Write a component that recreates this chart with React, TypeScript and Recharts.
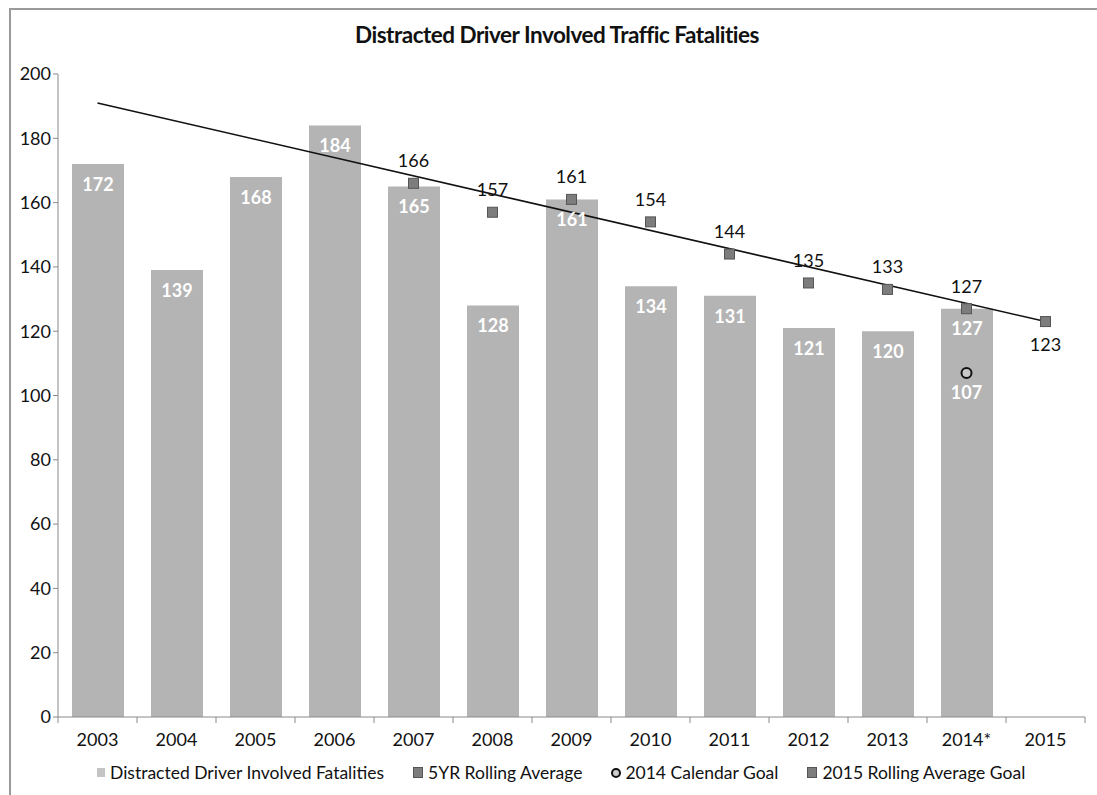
import React from "react";
import {
  ComposedChart,
  Bar,
  Line,
  XAxis,
  YAxis,
  LabelList,
  Legend,
} from "recharts";

const years = ["2003", "2004", "2005", "2006", "2007", "2008", "2009", "2010", "2011", "2012", "2013", "2014*", "2015"];
const fatalities = [172, 139, 168, 184, 165, 128, 161, 134, 131, 121, 120, 127, null];
const rollingAvg = [null, null, null, null, 166, 157, 161, 154, 144, 135, 133, 127, null];
const calendarGoal = [null, null, null, null, null, null, null, null, null, null, null, 107, null];
const rollingGoal = [null, null, null, null, null, null, null, null, null, null, null, null, 123];
const trend = [191, null, null, null, null, null, null, null, null, null, null, null, 123];
const yTicks = [0, 20, 40, 60, 80, 100, 120, 140, 160, 180, 200];

const legendItems = [
  { name: "Distracted Driver Involved Fatalities", kind: "bar" },
  { name: "5YR Rolling Average", kind: "square" },
  { name: "2014 Calendar Goal", kind: "circle" },
  { name: "2015 Rolling Average Goal", kind: "square" },
];

const data = years.map((year, i) => ({
  year,
  fatalities: fatalities[i],
  rollingAvg: rollingAvg[i],
  calendarGoal: calendarGoal[i],
  rollingGoal: rollingGoal[i],
  trend: trend[i],
}));

const FONT = "Lato, 'Open Sans', sans-serif";
const BAR = "#b4b4b4";
const MARK = "#7d7d7d";
const AXIS = "#8a8a8a";

function Square(props: any) {
  const { cx, cy, value } = props;
  if (value == null || cx == null) return null;
  return <rect x={cx - 5} y={cy - 5} width={10} height={10} fill={MARK} stroke="#555" strokeWidth={1} />;
}

function Circle(props: any) {
  const { cx, cy, value } = props;
  if (value == null || cx == null) return null;
  return <circle cx={cx} cy={cy} r={5} fill="#c8c8c8" stroke="#111" strokeWidth={2} />;
}

// excel style: tick marks sit between categories, hanging below the axis line
function YearTick(props: any) {
  const { x, y, payload, index, visibleTicksCount } = props;
  const half = 39.5;
  const last = index === visibleTicksCount - 1;
  const top = y - 16;
  return (
    <g>
      <line x1={x - half} x2={x - half} y1={top} y2={top + 6} stroke={AXIS} />
      {last && <line x1={x + half} x2={x + half} y1={top} y2={top + 6} stroke={AXIS} />}
      <text x={x} y={y + 13} textAnchor="middle" fontFamily={FONT} fontSize={18} fill="#111">
        {payload.value}
      </text>
    </g>
  );
}

function LegendContent() {
  return (
    <div style={{ display: "flex", alignItems: "center", fontFamily: FONT, fontSize: 17.5, color: "#111", whiteSpace: "nowrap" }}>
      {legendItems.map((it) => (
        <div key={it.name} style={{ display: "flex", alignItems: "center", marginRight: 29 }}>
          {it.kind === "circle" ? (
            <span style={{ width: 6, height: 6, borderRadius: "50%", border: "2px solid #111", background: "#ccc", marginRight: 4 }} />
          ) : (
            <span
              style={{
                width: 8,
                height: 9,
                background: it.kind === "bar" ? "#c4c4c4" : MARK,
                border: it.kind === "bar" ? "none" : "1px solid #555",
                marginRight: 5,
              }}
            />
          )}
          {it.name}
        </div>
      ))}
    </div>
  );
}

export default function App() {
  return (
    <div style={{ position: "absolute", left: 0, top: 0, width: 1097, height: 795, background: "#fff", overflow: "hidden" }}>
      <div style={{ position: "absolute", left: 9, top: 8, right: 0, bottom: 0, borderLeft: "2px solid #9a9a9a", borderTop: "2px solid #9a9a9a" }} />
      <div
        style={{
          position: "absolute",
          top: 21,
          left: 343,
          width: 428,
          textAlign: "center",
          fontFamily: FONT,
          fontWeight: 700,
          fontSize: 22.5,
          letterSpacing: -0.5,
          color: "#111",
          whiteSpace: "nowrap",
        }}
      >
        Distracted Driver Involved Traffic Fatalities
      </div>
      <ComposedChart
        width={1097}
        height={795}
        data={data}
        margin={{ top: 74, right: 12, left: 8, bottom: 24 }}
        barSize={52}
        style={{ position: "absolute", left: 0, top: 0 }}
      >
        <XAxis
          dataKey="year"
          tickLine={false}
          axisLine={{ stroke: AXIS }}
          tick={<YearTick />}
          tickMargin={10}
          height={30}
        />
        <YAxis
          domain={[0, 200]}
          ticks={yTicks}
          width={50}
          axisLine={{ stroke: AXIS }}
          tickLine={{ stroke: AXIS }}
          tickSize={5}
          tick={{ fontFamily: FONT, fontSize: 18, fill: "#111" }}
        />
        <Legend
          verticalAlign="bottom"
          height={24}
          content={<LegendContent />}
          wrapperStyle={{ left: 97, top: 762, width: 1000 }}
        />
        <Bar dataKey="fatalities" fill={BAR} isAnimationActive={false}>
          <LabelList dataKey="fatalities" position="insideTop" offset={14} fill="#fff" fontFamily={FONT} fontSize={18} fontWeight={700} />
        </Bar>
        <Line dataKey="trend" stroke="#111" strokeWidth={1.6} dot={false} connectNulls isAnimationActive={false} legendType="none" />
        <Line dataKey="rollingAvg" stroke="none" dot={<Square />} activeDot={false} isAnimationActive={false}>
          <LabelList dataKey="rollingAvg" position="top" offset={16} fill="#111" fontFamily={FONT} fontSize={18} />
        </Line>
        <Line dataKey="calendarGoal" stroke="none" dot={<Circle />} activeDot={false} isAnimationActive={false}>
          <LabelList dataKey="calendarGoal" position="bottom" offset={13} fill="#fff" fontFamily={FONT} fontSize={18} fontWeight={700} />
        </Line>
        <Line dataKey="rollingGoal" stroke="none" dot={<Square />} activeDot={false} isAnimationActive={false}>
          <LabelList dataKey="rollingGoal" position="bottom" offset={17} fill="#111" fontFamily={FONT} fontSize={18} />
        </Line>
      </ComposedChart>
    </div>
  );
}
